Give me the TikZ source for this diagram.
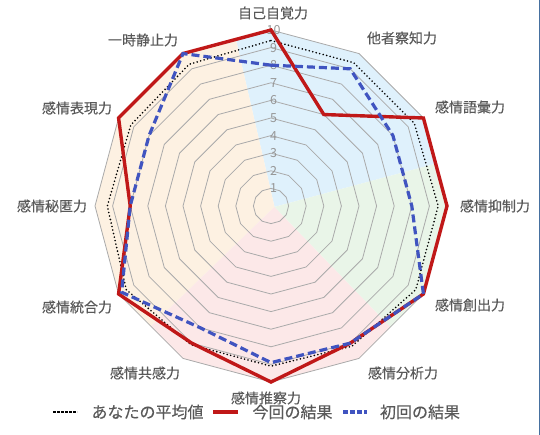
\documentclass[tikz,border=0pt]{standalone}
\usepackage{fontspec}
\setmainfont{Noto Sans CJK JP}
\newfontfamily\labelfont{Noto Sans CJK JP}[FakeBold=0.3]
\definecolor{ringgray}{RGB}{170,170,170}
\definecolor{labelgray}{RGB}{89,89,89}
\definecolor{tickgray}{RGB}{150,150,150}
\definecolor{nowred}{RGB}{192,24,24}
\definecolor{firstblue}{RGB}{64,84,192}
\definecolor{piesky}{RGB}{223,241,252}
\definecolor{piegreen}{RGB}{233,245,232}
\definecolor{piepink}{RGB}{252,232,232}
\definecolor{pieorange}{RGB}{253,241,226}
\definecolor{edgeblue}{RGB}{70,112,160}

\begin{document}
\begin{tikzpicture}
	[
	x=1pt,y=1pt,
	ring/.style={draw=ringgray,line width=0.8pt},
	axislabel/.style={text=labelgray,font=\labelfont\fontsize{14}{14}\selectfont,inner sep=0pt},
	ticklabel/.style={text=tickgray,font=\fontsize{12.5}{12.5}\selectfont,inner sep=0pt},
	avgline/.style={black,line width=1.8pt,dash pattern=on 0pt off 3.6pt,line cap=round},
	avgkey/.style={black,line width=1.6pt,dash pattern=on 2.6pt off 1.4pt},
	nowline/.style={draw=nowred,line width=3.4pt},
	firstline/.style={draw=firstblue,line width=3.2pt,dash pattern=on 8pt off 4pt},
	legendtext/.style={text=labelgray,font=\labelfont\fontsize{16}{16}\selectfont,inner sep=0pt},
	]
	\useasboundingbox (0,0) rectangle (540,435);
	\coordinate (centre) at (271,229);
	
	\begin{scope}[shift={(centre)},x=17.6pt,y=17.6pt]
		% background quarters, cut to the outer ring
		\begin{scope}
			\clip (90:10) \foreach \a in {60,30,...,-240}{ -- (\a:10)} -- cycle;
			\coordinate (piecentre) at (0.2,-0.05);
			\fill[piesky] (piecentre) -- ++(15:14) arc[start angle=15,end angle=103,radius=14] -- cycle;
			\fill[pieorange] (piecentre) -- ++(103:14) arc[start angle=103,end angle=224,radius=14] -- cycle;
			\fill[piepink] (piecentre) -- ++(224:14) arc[start angle=224,end angle=314,radius=14] -- cycle;
			\fill[piegreen] (piecentre) -- ++(314:14) arc[start angle=314,end angle=375,radius=14] -- cycle;
		\end{scope}
		
		\foreach \v in {1,...,10}
			\draw[ring] (90:\v) \foreach \a in {60,30,...,-240}{ -- (\a:\v)} -- cycle;
		\foreach \v in {1,...,10}
			\node[ticklabel] (tick\v) at (0.15,\v) {\v};
		
		% series
		\draw[avgline] (90:9.4) -- (60:9.4) -- (30:9.4) -- (0:9.5) -- (-30:9.5) -- (-60:9.2)
			-- (-90:9.1) -- (-120:9.1) -- (-150:9.5) -- (180:9.3) -- (150:9.2) -- (120:9.3) -- cycle;
		\draw[nowline] (90:10) -- (60:6) -- (30:10) -- (0:10) -- (-30:10) -- (-60:9)
			-- (-90:10) -- (-120:9) -- (-150:10) -- (180:8) -- (150:10) -- (120:10) -- cycle;
		\draw[firstline] (90:8) -- (60:9) -- (30:8) -- (0:8) -- (-30:10) -- (-60:9)
			-- (-90:8.9) -- (-120:8) -- (-150:9.8) -- (180:8) -- (150:8) -- (120:10) -- cycle;
	\end{scope}
	
	% axis names
	\node[axislabel] (selfaware) at (273,422) {自己自覚力};
	\node[axislabel] (otheraware) at (402,397) {他者察知力};
	\node[axislabel] (vocab) at (470,328) {感情語彙力};
	\node[axislabel] (suppress) at (495,229) {感情抑制力};
	\node[axislabel] (create) at (470,130) {感情創出力};
	\node[axislabel] (analyse) at (403,62) {感情分析力};
	\node[axislabel] (infer) at (266,37) {感情推察力};
	\node[axislabel] (empathy) at (145,62) {感情共感力};
	\node[axislabel] (integrate) at (77,128) {感情統合力};
	\node[axislabel] (conceal) at (52,229) {感情秘匿力};
	\node[axislabel] (express) at (77,327) {感情表現力};
	\node[axislabel] (pause) at (143,395) {一時静止力};
	
	% legend
	\coordinate (avgA) at (53,23);
	\coordinate (avgB) at (77,23);
	\coordinate (nowA) at (213,23);
	\coordinate (nowB) at (238,23);
	\coordinate (firstA) at (343,23);
	\coordinate (firstB) at (367,23);
	\draw[avgkey] (avgA) -- (avgB);
	\draw[nowline] (nowA) -- (nowB);
	\draw[firstline,dash pattern=on 5pt off 2pt] (firstA) -- (firstB);
	\node[legendtext] (avgtext) at (147.5,23) {あなたの平均値};
	\node[legendtext] (nowtext) at (292.5,23) {今回の結果};
	\node[legendtext] (firsttext) at (420,23) {初回の結果};
	
	\draw[edgeblue,line width=1.4pt] (539.3,0) -- (539.3,435);
\end{tikzpicture}
\end{document}
